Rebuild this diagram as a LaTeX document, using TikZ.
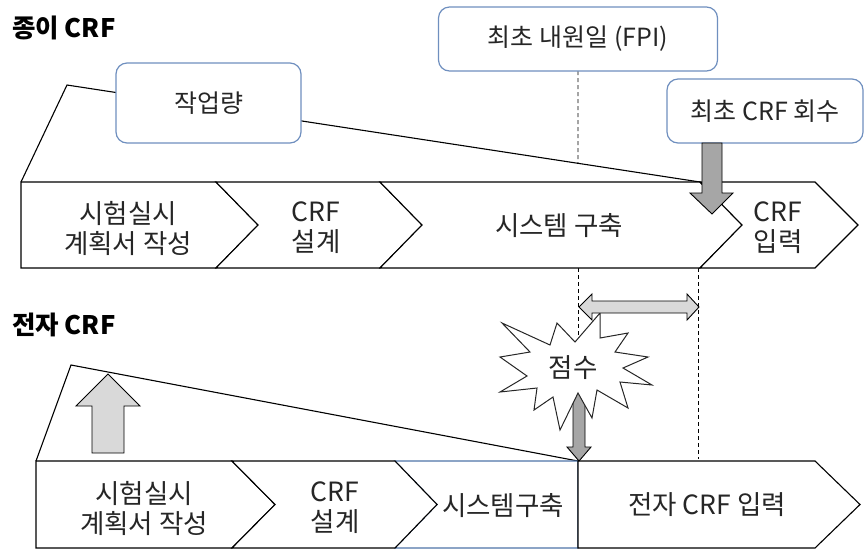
\documentclass[tikz,border=0pt]{standalone}
\usepackage{fontspec}
\setmainfont{Noto Sans CJK KR}
\definecolor{boxblue}{HTML}{6F8FBF}
\definecolor{rectblue}{HTML}{4F74A8}
\definecolor{darkg}{HTML}{A6A6A6}
\definecolor{lightg}{HTML}{D9D9D9}
\definecolor{txt}{HTML}{262626}
\tikzset{
  shp/.style={draw=black, line width=1.1pt, fill=white, line join=miter},
  lbl/.style={text=txt, font=\fontsize{26.5}{30}\selectfont, align=center, inner sep=0pt},
  callout/.style={draw=boxblue, line width=1.2pt, fill=white, rounded corners=11pt, text=txt,
    font=\fontsize{25}{29}\selectfont, inner sep=0pt},
  garrow/.style={draw=black, line width=0.9pt, fill=darkg, line join=miter},
  larrow/.style={draw=black, line width=0.9pt, fill=lightg, line join=miter},
  guide/.style={line width=0.9pt, dash pattern=on 4pt off 3pt},
  slant/.style={line width=1.1pt},
  sectitle/.style={font=\bfseries\fontsize{25.5}{29}\selectfont, text=black, anchor=west, inner sep=0pt}
}
\begin{document}
\begin{tikzpicture}[x=1pt,y=-1pt]
\useasboundingbox (0,0) rectangle (866,550);

% section titles
\node[sectitle] (t1) at (12,28) {종이 CRF};
\node[sectitle] (t2) at (12,325) {전자 CRF};

% ---------- paper CRF ----------
\coordinate (pA) at (21,182);
\coordinate (pApex) at (67,85);
\coordinate (pR) at (700,182);
\draw[slant] (pA) -- (pApex) -- (pR);

% FPI guide line
\coordinate (f1) at (578,71);
\coordinate (f2) at (578,300);
\draw[guide] (f1) -- (intersection of f1--f2 and pApex--pR);

% lower guide lines
\coordinate (g1a) at (578,268);
\coordinate (g1b) at (578,461);
\coordinate (g2a) at (698,268);
\coordinate (g2b) at (698,459);
\draw[guide] (g1a) -- (g1b);
\draw[guide] (g2a) -- (g2b);

% chevrons top
\draw[shp] (21,182) -- (216,182) -- (258,225) -- (216,268) -- (21,268) -- cycle;
\draw[shp] (216,182) -- (380,182) -- (422,225) -- (380,268) -- (216,268) -- (258,225) -- cycle;
\draw[shp] (380,182) -- (700,182) -- (742,225) -- (700,268) -- (380,268) -- (422,225) -- cycle;
\draw[shp] (700,182) -- (815,182) -- (858,225) -- (815,268) -- (700,268) -- (742,225) -- cycle;

\node[lbl] (p1) at (128,228) {시험실시\\계획서 작성};
\node[lbl] (p2) at (316,228) {CRF\\설계};
\node[lbl] (p3) at (559,226) {시스템 구축};
\node[lbl] (p4) at (778,228) {CRF\\입력};

% callouts
\node[callout, minimum width=185pt, minimum height=80pt] (work) at (208.5,103) {작업량};
\node[callout, minimum width=279pt, minimum height=64pt] (fpi) at (578,39) {최초 내원일 (FPI)};
\node[callout, minimum width=196pt, minimum height=64pt] (ret) at (765,111) {최초 CRF 회수};

% dark arrow down
\draw[garrow] (702,143) -- (722,143) -- (722,193) -- (733,193) -- (712,214) -- (690,193) -- (702,193) -- cycle;

% ---------- electronic CRF ----------
\coordinate (eA) at (36,461);
\coordinate (eApex) at (71,365);
\coordinate (eR) at (578,461);
\draw[slant] (eA) -- (eApex) -- (eR);

% chevrons bottom
\draw[draw=rectblue, line width=1.1pt, fill=white] (395,461) -- (578,461) -- (578,548) -- (395,548) -- (437,504.5) -- cycle;
\draw[shp] (36,461) -- (232,461) -- (275,504.5) -- (232,548) -- (36,548) -- cycle;
\draw[shp] (232,461) -- (395,461) -- (437,504.5) -- (395,548) -- (232,548) -- (275,504.5) -- cycle;
\draw[shp] (578,461) -- (815,461) -- (860,504.5) -- (815,548) -- (578,548) -- cycle;

\node[lbl] (e1) at (144,508) {시험실시\\계획서 작성};
\node[lbl] (e2) at (335,508) {CRF\\설계};
\node[lbl] (e3) at (503,506) {시스템구축};
\node[lbl] (e4) at (707,505) {전자 CRF 입력};

% light up arrow
\draw[larrow] (108,374) -- (140,406) -- (124,406) -- (124,453) -- (92,453) -- (92,406) -- (76,406) -- cycle;

% dark arrow down to e-CRF
\draw[garrow] (573,385) -- (585,385) -- (585,447) -- (591,447) -- (579,461) -- (567,447) -- (573,447) -- cycle;

% starburst
\draw[draw=black!85, line width=1pt, fill=white, line join=miter]
  (502,323) -- (550,345) -- (557,323) -- (575,342) -- (600,313) -- (600,338) -- (628,333)
  -- (615,352) -- (648,357) -- (623,368) -- (652,385) -- (620,382) -- (628,408) -- (597,390)
  -- (592,418) -- (578,393) -- (560,430) -- (553,397) -- (534,410) -- (537,388) -- (500,392)
  -- (527,376) -- (500,357) -- (530,352) -- cycle;
\node[lbl] (score) at (573,368) {점수};

% double arrow
\draw[larrow] (579,307) -- (592,294) -- (592,301) -- (687,301) -- (687,294) -- (699,307)
  -- (687,320) -- (687,313) -- (592,313) -- (592,320) -- cycle;
\end{tikzpicture}
\end{document}
